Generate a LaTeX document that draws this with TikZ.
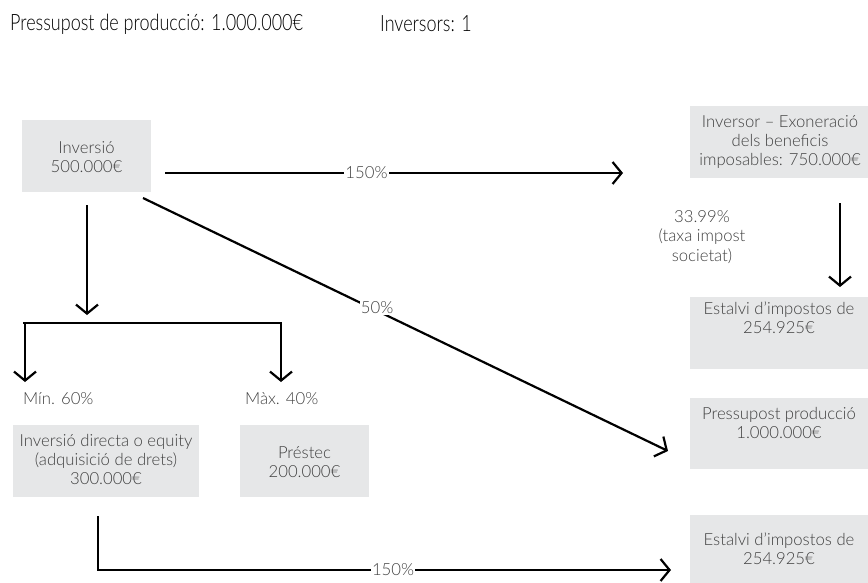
\documentclass[tikz,border=0pt]{standalone}
\usepackage{fontspec}
\setmainfont{Lato Light}
\newfontfamily\headfont{Lato Light}[FakeStretch=0.8]
\usetikzlibrary{arrows.meta}
\definecolor{boxgrey}{HTML}{E6E7E8}
\definecolor{txtgrey}{HTML}{404040}
\begin{document}
\begin{tikzpicture}[x=1pt,y=-1pt,
  box/.style={fill=boxgrey,draw=none,inner sep=0pt,minimum height=72pt},
  boxtext/.style={text=txtgrey,align=center,inner sep=0pt,font=\fontsize{16.7}{19.3}\selectfont},
  plain/.style={text=txtgrey,inner sep=0pt,font=\fontsize{16.7}{19.3}\selectfont},
  pct/.style={fill=white,text=txtgrey,inner sep=1pt,font=\fontsize{16.7}{19.3}\selectfont},
  head/.style={anchor=west,inner sep=0pt,font=\headfont\fontsize{22.5}{26}\selectfont},
  flow/.style={line width=2.2pt,-{Straight Barb[length=9pt,width=22pt,line width=2.2pt]}},
  bare/.style={line width=2.2pt}]
\useasboundingbox (0,0) rectangle (868,582);

% headline
\node[head] (title) at (10,24) {Pressupost de producció: 1.000.000€};
\node[head] (count) at (380,24) {Inversors: 1};

% grey boxes
\begin{scope}
\clip (0,0) rectangle (868,582);
\node[box,minimum width=129pt] (inv) at (86.5,156) {};
\node[box,minimum width=178pt] (exo) at (779,142) {};
\node[box,minimum width=178pt] (est1) at (779,333) {};
\node[box,minimum width=178pt,minimum height=71pt] (press) at (779,433.5) {};
\node[box,minimum width=178pt] (est2) at (779,551) {};
\node[box,minimum width=186pt] (equity) at (106,461) {};
\node[box,minimum width=129pt] (loan) at (304.5,461) {};
\end{scope}

% box captions
\node[boxtext] (tinv) at (86.5,157) {Inversió\\500.000€};
\node[boxtext] (texo) at (780,142) {Inversor – Exoneració\\dels beneficis\\imposables: 750.000€};
\node[boxtext] (test1) at (779,318) {Estalvi d’impostos de\\254.925€};
\node[boxtext] (tpress) at (779,423) {Pressupost producció\\1.000.000€};
\node[boxtext] (test2) at (779,549) {Estalvi d’impostos de\\254.925€};
\node[boxtext] (tequity) at (106,459.5) {Inversió directa o equity\\(adquisició de drets)\\300.000€};
\node[boxtext] (tloan) at (304.5,462) {Préstec\\200.000€};

% free labels
\node[boxtext] (rate) at (702,237) {33.99\%\\(taxa impost\\societat)};
\node[plain,anchor=west] (min) at (23,399) {Mín. 60\%};
\node[plain,anchor=west] (max) at (245,399) {Màx. 40\%};

% connector end points
\coordinate (a1s) at (165,173);
\coordinate (a1e) at (623,173);
\coordinate (a2s) at (143,198);
\coordinate (a2e) at (668,451);
\coordinate (a3s) at (87,205);
\coordinate (a3e) at (87,315);
\coordinate (barl) at (25,323);
\coordinate (barr) at (281,323);
\coordinate (minA) at (25,382);
\coordinate (maxA) at (281,382);
\coordinate (a4s) at (98,516);
\coordinate (a4c) at (98,570);
\coordinate (a4e) at (671,570);
\coordinate (a5s) at (840,203);
\coordinate (a5e) at (840,287);

% connectors
\draw[flow] (a1s) -- node[pct,pos=0.44] (p150a) {150\%} (a1e);
\draw[flow] (a2s) -- node[pct,pos=0.446,yshift=3pt] (p50) {50\%} (a2e);
\draw[flow] (a3s) -- (a3e);
\draw[bare] ([xshift=-2pt]barl) -- ([xshift=1.1pt]barr);
\draw[flow] (barl) -- (minA);
\draw[flow] (barr) -- (maxA);
\draw[flow] (a4s) -- (a4c) -- node[pct,pos=0.515] (p150b) {150\%} (a4e);
\draw[flow] (a5s) -- (a5e);
\end{tikzpicture}
\end{document}
